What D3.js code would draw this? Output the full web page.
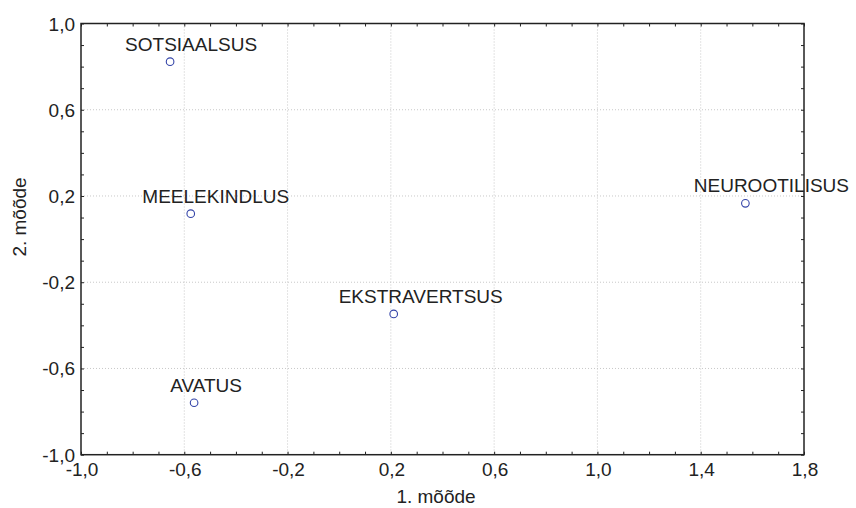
<!DOCTYPE html>
<html>
<head>
<meta charset="utf-8">
<script src="https://cdn.jsdelivr.net/npm/d3@7"></script>
<style>
  body { margin: 0; background: white; }
  text { font-family: "Liberation Sans", Arial, sans-serif; fill: #222; }
</style>
</head>
<body>
<div id="container"></div>
<script>
// data
let names = ["SOTSIAALSUS", "MEELEKINDLUS", "EKSTRAVERTSUS", "NEUROOTILISUS", "AVATUS"]
let dim1 = [-0.655, -0.575, 0.211, 1.573, -0.562]
let dim2 = [0.823, 0.118, -0.347, 0.166, -0.759]
let xTicks = [-1.0, -0.6, -0.2, 0.2, 0.6, 1.0, 1.4, 1.8]
let yTicks = [-1.0, -0.6, -0.2, 0.2, 0.6, 1.0]

// label shifts (layout only), px from the point
let labelShift = [21, 25, 27, 26, 12]

let width = 856, height = 508
let margin = {top: 23.5, right: 52, bottom: 53.3, left: 81}

let viz = d3.select("#container").append("svg")
    .attr("width", width)
    .attr("height", height)

let x = d3.scaleLinear().domain([-1, 1.8]).range([margin.left, width - margin.right])
let y = d3.scaleLinear().domain([-1, 1]).range([height - margin.bottom, margin.top])

let fmt = v => d3.format(".1f")(v).replace(".", ",").replace("\u2212", "-")

let minorX = d3.range(-10, 19).map(d => d / 10)
let minorY = d3.range(-10, 11).map(d => d / 10)

// gridlines
viz.append("g").selectAll("line").data(xTicks.slice(1, -1)).enter().append("line")
    .attr("x1", d => x(d)).attr("x2", d => x(d))
    .attr("y1", y(1)).attr("y2", y(-1))
    .attr("stroke", "#c8c8c8").attr("stroke-width", 1)
    .attr("stroke-dasharray", "1,2")
viz.append("g").selectAll("line").data(yTicks.slice(1, -1)).enter().append("line")
    .attr("y1", d => y(d)).attr("y2", d => y(d))
    .attr("x1", x(-1)).attr("x2", x(1.8))
    .attr("stroke", "#c8c8c8").attr("stroke-width", 1)
    .attr("stroke-dasharray", "1,2")

// axes with inward ticks on all four sides
let tk = 3
viz.append("g").attr("transform", "translate(0," + y(-1) + ")")
    .call(d3.axisBottom(x).tickValues(minorX).tickSize(-tk).tickFormat(""))
viz.append("g").attr("transform", "translate(0," + y(1) + ")")
    .call(d3.axisTop(x).tickValues(minorX).tickSize(-tk).tickFormat(""))
viz.append("g").attr("transform", "translate(" + x(-1) + ",0)")
    .call(d3.axisLeft(y).tickValues(minorY).tickSize(-tk).tickFormat(""))
viz.append("g").attr("transform", "translate(" + x(1.8) + ",0)")
    .call(d3.axisRight(y).tickValues(minorY).tickSize(-tk).tickFormat(""))
viz.selectAll(".domain").remove()
viz.selectAll(".tick line").attr("stroke", "#222")

viz.append("rect")
    .attr("x", x(-1)).attr("y", y(1))
    .attr("width", x(1.8) - x(-1)).attr("height", y(-1) - y(1))
    .attr("fill", "none").attr("stroke", "#222").attr("stroke-width", 1.5)

// tick labels
viz.append("g").selectAll("text").data(xTicks).enter().append("text")
    .attr("x", d => x(d) + 1)
    .attr("y", y(-1) + 21.5)
    .attr("text-anchor", "middle")
    .attr("font-size", 19)
    .text(fmt)
viz.append("g").selectAll("text").data(yTicks).enter().append("text")
    .attr("x", x(-1) - 6)
    .attr("y", d => y(d) + 7)
    .attr("text-anchor", "end")
    .attr("font-size", 19)
    .text(fmt)

// axis titles
viz.append("text")
    .attr("x", 436).attr("y", 503)
    .attr("text-anchor", "middle")
    .attr("font-size", 19)
    .text("1. mõõde")
viz.append("text")
    .attr("transform", "translate(26,217) rotate(-90)")
    .attr("text-anchor", "middle")
    .attr("font-size", 19)
    .text("2. mõõde")

// points
let pts = viz.append("g").selectAll("g").data(names).enter().append("g")
pts.append("circle")
    .attr("cx", (d, i) => x(dim1[i]))
    .attr("cy", (d, i) => y(dim2[i]))
    .attr("r", 3.8)
    .attr("fill", "white")
    .attr("stroke", "#3444a8")
    .attr("stroke-width", 1.1)
pts.append("text")
    .attr("x", (d, i) => x(dim1[i]) + labelShift[i])
    .attr("y", (d, i) => y(dim2[i]) - 11)
    .attr("text-anchor", "middle")
    .attr("font-size", 19)
    .text(d => d)
</script>
</body>
</html>
